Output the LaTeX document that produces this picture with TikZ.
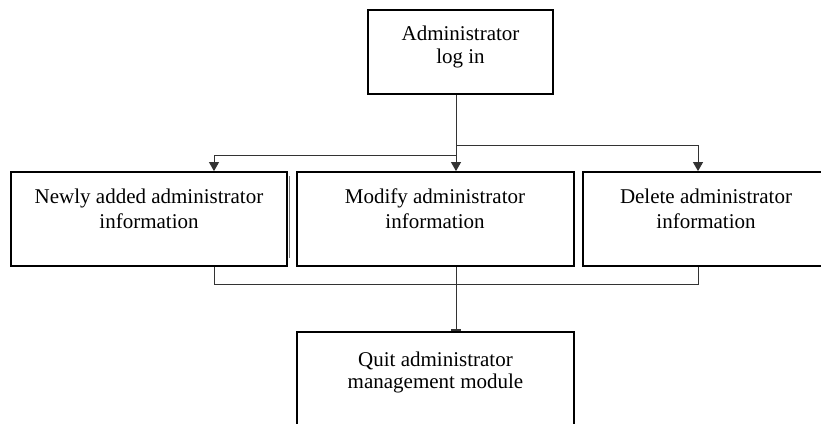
\documentclass[tikz,border=0pt]{standalone}
\usepackage{fontspec}
\setmainfont{Liberation Serif}
\usetikzlibrary{arrows.meta}
\begin{document}
\begin{tikzpicture}[x=1pt,y=-1pt,
  box/.style={draw=black,line width=1.8pt,rectangle,inner sep=0pt},
  lbl/.style={align=center,anchor=base,inner sep=0pt,
    font=\fontsize{21}{25}\selectfont},
  link/.style={draw=black!80,line width=0.9pt},
  tip/.style={-{Triangle[width=10pt,length=9pt]}}]
  \useasboundingbox (0,0) rectangle (821,423);

  % boxes
  \node[box,minimum width=185pt,minimum height=84pt] (login) at (460.5,52) {};
  \node[box,minimum width=276pt,minimum height=94pt] (add) at (149,219) {};
  \node[box,minimum width=277pt,minimum height=94pt] (modify) at (435.5,219) {};
  \node[box,minimum width=246pt,minimum height=94pt] (delete) at (706,219) {};
  \node[box,minimum width=277pt,minimum height=98pt] (quit) at (435.5,381) {};

  % labels (positioned by the baseline of their last line)
  \node[lbl] (tlogin) at (460.5,63) {Administrator\\[-2pt]log in};
  \node[lbl] (tadd) at (149,228) {Newly added administrator\\information};
  \node[lbl] (tmodify) at (435,228) {Modify administrator\\information};
  \node[lbl] (tdelete) at (706,228) {Delete administrator\\information};
  \node[lbl] (tquit) at (435.5,388) {Quit administrator\\[-3pt]management module};

  % thin edge beside the first box
  \draw[black!55,line width=0.8pt] (289,176) -- (289,258);

  % branch columns
  \coordinate (ca) at (214,0);
  \coordinate (cm) at (456,0);
  \coordinate (cd) at (698,0);

  % from log in down to the three operations
  \draw[link,tip] (login.south -| cm) -- (modify.north -| cm);
  \draw[link,tip] (cm |- 0,155) -- (ca |- 0,155) -- (add.north -| ca);
  \draw[link,tip] (cm |- 0,145) -- (cd |- 0,145) -- (delete.north -| cd);

  % from the operations to quit
  \draw[link] (add.south -| ca) -- (ca |- 0,284) -- (cd |- 0,284) -- (delete.south -| cd);
  \draw[link,-{Rectangle[width=10pt,length=2pt]}] (modify.south -| cm) -- (quit.north -| cm);
\end{tikzpicture}
\end{document}
